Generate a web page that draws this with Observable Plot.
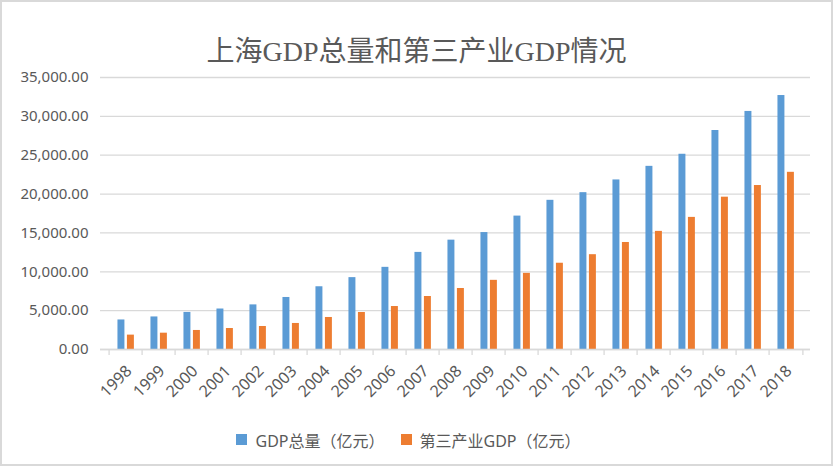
<!DOCTYPE html>
<html>
<head>
<meta charset="utf-8">
<script src="https://cdn.jsdelivr.net/npm/d3@7"></script>
<script src="https://cdn.jsdelivr.net/npm/@observablehq/plot@0.6"></script>
<style>
  html, body { margin: 0; padding: 0; background: #fff; }
  #chart { position: relative; width: 833px; height: 466px; overflow: hidden; background: #fff; }
  #border { position: absolute; left: 0; top: 0; width: 833px; height: 466px; box-sizing: border-box; border: 2px solid #d9d9d9; pointer-events: none; }
  #title { position: absolute; top: 30px; left: 0; width: 833px; text-align: center; font-family: "Liberation Serif", "Noto Sans CJK SC", serif; font-size: 28px; line-height: 44px; color: #595959; }
  #plot { position: absolute; left: 0; top: 60px; }
  #legend { position: absolute; left: 0; top: 423px; width: 833px; display: flex; justify-content: center; }
</style>
</head>
<body>
<div id="chart">
  <div id="title">上海GDP总量和第三产业GDP情况</div>
  <div id="plot"></div>
  <div id="legend"></div>
  <div id="border"></div>
</div>
<script>
const years = ["1998","1999","2000","2001","2002","2003","2004","2005","2006","2007","2008","2009","2010","2011","2012","2013","2014","2015","2016","2017","2018"];
const gdpTotal = [3801, 4189, 4771, 5210, 5741, 6694, 8073, 9248, 10572, 12494, 14070, 15046, 17166, 19196, 20182, 21818, 23568, 25123, 28179, 30633, 32680];
const tertiaryGDP = [1850, 2100, 2450, 2700, 2960, 3350, 4120, 4760, 5530, 6820, 7850, 8900, 9800, 11100, 12200, 13770, 15200, 17000, 19600, 21100, 22800];
const seriesNames = ["GDP总量（亿元）", "第三产业GDP（亿元）"];
const seriesColors = ["#5B9BD5", "#ED7D31"];
const yTicks = [0, 5000, 10000, 15000, 20000, 25000, 30000, 35000];

const W = 833, H = 360, mL = 100, mR = 23, mT = 17, mB = 71;
const band = (W - mL - mR) / years.length;

const rowsTotal = years.map((y, i) => ({year: y, series: seriesNames[0], value: gdpTotal[i]}));
const rowsTert = years.map((y, i) => ({year: y, series: seriesNames[1], value: tertiaryGDP[i]}));

const color = {domain: seriesNames, range: seriesColors};

const chart = Plot.plot({
  width: W, height: H,
  marginLeft: mL, marginRight: mR, marginTop: mT, marginBottom: mB,
  style: {fontFamily: '"Noto Sans", "Noto Sans CJK SC", sans-serif', fontSize: "15px", color: "#595959", background: "transparent"},
  x: {type: "band", domain: years, padding: 0, label: null},
  y: {domain: [0, 35000], label: null},
  color,
  marks: [
    Plot.ruleY(yTicks, {stroke: "#d9d9d9", strokeWidth: 1.3}),
    Plot.barY(rowsTotal, {x: "year", y: "value", fill: "series", insetLeft: band * 0.25, insetRight: band * 0.52}),
    Plot.barY(rowsTert, {x: "year", y: "value", fill: "series", insetLeft: band * 0.53, insetRight: band * 0.24}),
    Plot.ruleY([0], {stroke: "#d9d9d9", strokeWidth: 1.3}),
    Plot.axisY({ticks: yTicks, tickFormat: d3.format(",.2f"), tickSize: 0, tickPadding: 12, fontSize: 15, fill: "#595959", label: null}),
    Plot.axisX({tickSize: 6, text: null, dx: -band / 2, stroke: "#d9d9d9", strokeWidth: 1.3, label: null}),
    Plot.axisX({ticks: [years[years.length - 1]], tickSize: 6, text: null, dx: band / 2, stroke: "#d9d9d9", strokeWidth: 1.3, label: null}),
    Plot.axisX({tickSize: 0, tickPadding: 19, tickRotate: -45, fontSize: 16, fill: "#595959", label: null, dx: 3})
  ]
});
document.getElementById("plot").appendChild(chart);

const legend = Plot.legend({
  color,
  legend: "swatches",
  swatchSize: 11,
  style: {fontFamily: '"Noto Sans", "Noto Sans CJK SC", sans-serif', fontSize: "16px", color: "#595959"}
});
document.getElementById("legend").appendChild(legend);
</script>
</body>
</html>
